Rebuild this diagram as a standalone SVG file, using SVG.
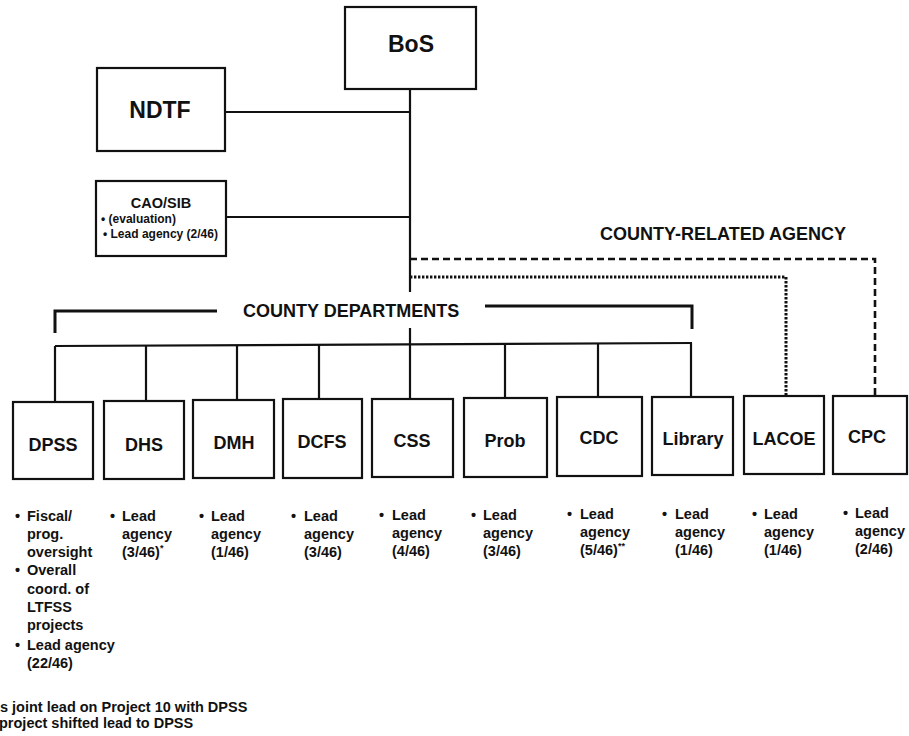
<svg xmlns="http://www.w3.org/2000/svg" width="909" height="736" viewBox="0 0 909 736">
<style>
  .box { fill: #fff; stroke: #111; stroke-width: 2.2; }
  .ln { fill: none; stroke: #111; stroke-width: 2.2; }
  .br { fill: none; stroke: #111; stroke-width: 3; }
  .dash { fill: none; stroke: #111; stroke-width: 2.6; stroke-dasharray: 7 4; }
  .dot { fill: none; stroke: #111; stroke-width: 3; stroke-dasharray: 2.4 1.6; }
  text { font-family: "Liberation Sans", Arial, sans-serif; font-weight: bold; fill: #111; }
  .big { font-size: 23px; text-anchor: middle; }
  .lbl { font-size: 18px; text-anchor: middle; }
  .hdr { font-size: 18px; }
  .b { font-size: 14.5px; }
  .s { font-size: 12px; }
  .sup { font-size: 9px; }
</style>
<rect width="909" height="736" fill="#fff"/>
<g id="connectors">
  <path class="ln" d="M410,89 V292"/>
  <path class="ln" d="M410,328 V399"/>
  <path class="ln" d="M225,112 H410"/>
  <path class="ln" d="M226,217 H410"/>
  <path class="dash" d="M410,259 H875 V396"/>
  <path class="dot" d="M410,277 H786 V396"/>
  <path class="br" d="M55,333 V311 H217"/>
  <path class="br" d="M485,306 H692 V329"/>
  <path class="ln" d="M55,346 L692,343"/>
  <path class="ln" d="M55,346 V402"/>
  <path class="ln" d="M146,346 V401"/>
  <path class="ln" d="M237,345 V400"/>
  <path class="ln" d="M319,345 V399"/>
  <path class="ln" d="M505,344 V398"/>
  <path class="ln" d="M598,344 V397"/>
  <path class="ln" d="M691,343 V397"/>
</g>
<g id="BoS">
  <rect class="box" x="345" y="7" width="131" height="82"/>
  <text class="big" x="411" y="52">BoS</text>
</g>
<g id="NDTF">
  <rect class="box" x="97" y="68" width="128" height="83"/>
  <text class="big" x="160" y="118">NDTF</text>
</g>
<g id="CAO-SIB">
  <rect class="box" x="96" y="181" width="130" height="75"/>
  <text x="161" y="208" style="font-size:14.5px;text-anchor:middle">CAO/SIB</text>
  <text class="s" x="101" y="223">• (evaluation)</text>
  <text class="s" x="103" y="238">•  Lead agency (2/46)</text>
</g>
<g id="county-related-agency-label">
  <text class="hdr" x="600" y="240">COUNTY-RELATED AGENCY</text>
</g>
<g id="county-departments-label">
  <text class="hdr" x="243" y="317">COUNTY DEPARTMENTS</text>
</g>
<g id="DPSS">
  <rect class="box" x="13" y="402" width="80" height="77"/>
  <text class="lbl" x="53" y="451">DPSS</text>
  <text class="b" x="15" y="521">•</text>
  <text class="b" x="27" y="521">Fiscal/</text>
  <text class="b" x="27" y="539">prog.</text>
  <text class="b" x="27" y="557">oversight</text>
  <text class="b" x="15" y="575">•</text>
  <text class="b" x="27" y="575">Overall</text>
  <text class="b" x="27" y="594">coord. of</text>
  <text class="b" x="27" y="612">LTFSS</text>
  <text class="b" x="27" y="630">projects</text>
  <text class="b" x="15" y="650">•</text>
  <text class="b" x="27" y="650">Lead agency</text>
  <text class="b" x="27" y="668">(22/46)</text>
</g>
<g id="DHS">
  <rect class="box" x="104" y="401" width="80" height="78"/>
  <text class="lbl" x="144" y="451">DHS</text>
  <text class="b" x="110" y="521">•</text>
  <text class="b" x="122" y="521">Lead</text>
  <text class="b" x="122" y="539">agency</text>
  <text class="b" x="122" y="557">(3/46)<tspan class="sup" dy="-6">*</tspan></text>
</g>
<g id="DMH">
  <rect class="box" x="193" y="400" width="81" height="78"/>
  <text class="lbl" x="234" y="449">DMH</text>
  <text class="b" x="199" y="521">•</text>
  <text class="b" x="211" y="521">Lead</text>
  <text class="b" x="211" y="539">agency</text>
  <text class="b" x="211" y="557">(1/46)</text>
</g>
<g id="DCFS">
  <rect class="box" x="283" y="399" width="79" height="79"/>
  <text class="lbl" x="322" y="448">DCFS</text>
  <text class="b" x="291" y="521">•</text>
  <text class="b" x="304" y="521">Lead</text>
  <text class="b" x="304" y="539">agency</text>
  <text class="b" x="304" y="557">(3/46)</text>
</g>
<g id="CSS">
  <rect class="box" x="372" y="399" width="81" height="78"/>
  <text class="lbl" x="412" y="447">CSS</text>
  <text class="b" x="379" y="520">•</text>
  <text class="b" x="392" y="520">Lead</text>
  <text class="b" x="392" y="538">agency</text>
  <text class="b" x="392" y="556">(4/46)</text>
</g>
<g id="Prob">
  <rect class="box" x="464" y="398" width="83" height="79"/>
  <text class="lbl" x="505" y="447">Prob</text>
  <text class="b" x="471" y="520">•</text>
  <text class="b" x="483" y="520">Lead</text>
  <text class="b" x="483" y="538">agency</text>
  <text class="b" x="483" y="556">(3/46)</text>
</g>
<g id="CDC">
  <rect class="box" x="557" y="397" width="85" height="79"/>
  <text class="lbl" x="599" y="444">CDC</text>
  <text class="b" x="567" y="519">•</text>
  <text class="b" x="580" y="519">Lead</text>
  <text class="b" x="580" y="537">agency</text>
  <text class="b" x="580" y="555">(5/46)<tspan class="sup" dy="-6">**</tspan></text>
</g>
<g id="Library">
  <rect class="box" x="652" y="397" width="81" height="78"/>
  <text class="lbl" x="693" y="445">Library</text>
  <text class="b" x="662" y="519">•</text>
  <text class="b" x="675" y="519">Lead</text>
  <text class="b" x="675" y="537">agency</text>
  <text class="b" x="675" y="555">(1/46)</text>
</g>
<g id="LACOE">
  <rect class="box" x="744" y="396" width="80" height="78"/>
  <text class="lbl" x="784" y="445">LACOE</text>
  <text class="b" x="752" y="519">•</text>
  <text class="b" x="764" y="519">Lead</text>
  <text class="b" x="764" y="537">agency</text>
  <text class="b" x="764" y="555">(1/46)</text>
</g>
<g id="CPC">
  <rect class="box" x="833" y="396" width="74" height="78"/>
  <text class="lbl" x="867" y="443">CPC</text>
  <text class="b" x="843" y="518">•</text>
  <text class="b" x="855" y="518">Lead</text>
  <text class="b" x="855" y="536">agency</text>
  <text class="b" x="855" y="554">(2/46)</text>
</g>
<g id="footnotes">
  <text class="b" x="0" y="712">s joint lead on Project 10 with DPSS</text>
  <text class="b" x="-1" y="728">project shifted lead to DPSS</text>
</g>
</svg>
